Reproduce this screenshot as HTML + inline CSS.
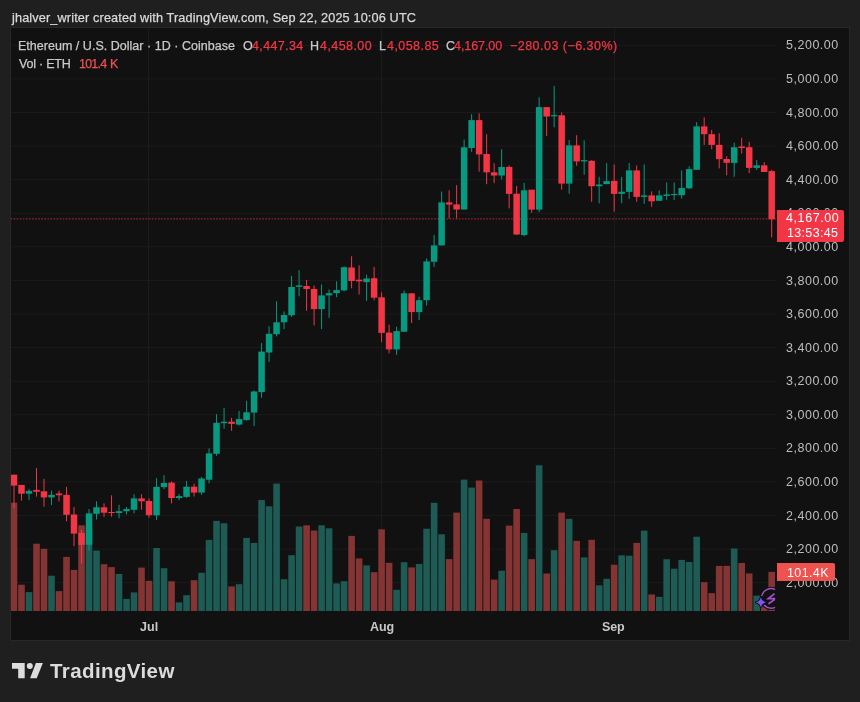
<!DOCTYPE html>
<html><head><meta charset="utf-8"><style>
html,body{margin:0;padding:0;width:860px;height:702px;overflow:hidden;background:#1f1f1f;font-family:"Liberation Sans",sans-serif}
svg{position:absolute;left:0;top:0}
.t{position:absolute;white-space:nowrap;will-change:transform}
.box{position:absolute}
.logo{left:52px;top:656px;font-size:20px;font-weight:bold;color:#dcdcdc;line-height:24px;letter-spacing:-0.2px}
</style></head><body>
<svg width="860" height="702" viewBox="0 0 860 702">
<clipPath id="pc2"><rect x="11" y="28" width="765" height="583"/></clipPath>
<rect x="10.5" y="27.5" width="839" height="613" fill="#111111" stroke="#282828" stroke-width="1"/>
<rect x="11" y="44.80" width="765" height="1" fill="#1b1b1b"/>
<rect x="11" y="78.39" width="765" height="1" fill="#1b1b1b"/>
<rect x="11" y="111.98" width="765" height="1" fill="#1b1b1b"/>
<rect x="11" y="145.56" width="765" height="1" fill="#1b1b1b"/>
<rect x="11" y="179.15" width="765" height="1" fill="#1b1b1b"/>
<rect x="11" y="212.74" width="765" height="1" fill="#1b1b1b"/>
<rect x="11" y="246.33" width="765" height="1" fill="#1b1b1b"/>
<rect x="11" y="279.92" width="765" height="1" fill="#1b1b1b"/>
<rect x="11" y="313.50" width="765" height="1" fill="#1b1b1b"/>
<rect x="11" y="347.09" width="765" height="1" fill="#1b1b1b"/>
<rect x="11" y="380.68" width="765" height="1" fill="#1b1b1b"/>
<rect x="11" y="414.27" width="765" height="1" fill="#1b1b1b"/>
<rect x="11" y="447.86" width="765" height="1" fill="#1b1b1b"/>
<rect x="11" y="481.44" width="765" height="1" fill="#1b1b1b"/>
<rect x="11" y="515.03" width="765" height="1" fill="#1b1b1b"/>
<rect x="11" y="548.62" width="765" height="1" fill="#1b1b1b"/>
<rect x="11" y="582.21" width="765" height="1" fill="#1b1b1b"/>
<rect x="148" y="28" width="1" height="583" fill="#1b1b1b"/>
<rect x="381" y="28" width="1" height="583" fill="#1b1b1b"/>
<rect x="614" y="28" width="1" height="583" fill="#1b1b1b"/>
<rect x="11" y="502.7" width="6.3" height="108.3" fill="#853434"/>
<rect x="18.2" y="584.7" width="6.6" height="26.3" fill="#853434"/>
<rect x="25.7" y="592.1" width="6.6" height="18.9" fill="#1d5b54"/>
<rect x="33.21" y="543.7" width="6.6" height="67.3" fill="#853434"/>
<rect x="40.71" y="548.8" width="6.6" height="62.2" fill="#853434"/>
<rect x="48.21" y="575.7" width="6.6" height="35.3" fill="#1d5b54"/>
<rect x="55.71" y="591.1" width="6.6" height="19.9" fill="#853434"/>
<rect x="63.21" y="556.9" width="6.6" height="54.1" fill="#853434"/>
<rect x="70.72" y="569.9" width="6.6" height="41.1" fill="#853434"/>
<rect x="78.22" y="525.3" width="6.6" height="85.7" fill="#853434"/>
<rect x="85.72" y="527.3" width="6.6" height="83.7" fill="#1d5b54"/>
<rect x="93.22" y="550.6" width="6.6" height="60.4" fill="#1d5b54"/>
<rect x="100.72" y="564.2" width="6.6" height="46.8" fill="#853434"/>
<rect x="108.23" y="567.1" width="6.6" height="43.9" fill="#853434"/>
<rect x="115.73" y="574" width="6.6" height="37" fill="#1d5b54"/>
<rect x="123.23" y="598.9" width="6.6" height="12.1" fill="#1d5b54"/>
<rect x="130.73" y="592.4" width="6.6" height="18.6" fill="#1d5b54"/>
<rect x="138.23" y="567.6" width="6.6" height="43.4" fill="#853434"/>
<rect x="145.74" y="580.8" width="6.6" height="30.2" fill="#853434"/>
<rect x="153.24" y="548" width="6.6" height="63" fill="#1d5b54"/>
<rect x="160.74" y="568.2" width="6.6" height="42.8" fill="#1d5b54"/>
<rect x="168.24" y="581.3" width="6.6" height="29.7" fill="#853434"/>
<rect x="175.74" y="602.4" width="6.6" height="8.6" fill="#1d5b54"/>
<rect x="183.25" y="595.2" width="6.6" height="15.8" fill="#1d5b54"/>
<rect x="190.75" y="580.2" width="6.6" height="30.8" fill="#853434"/>
<rect x="198.25" y="572.8" width="6.6" height="38.2" fill="#1d5b54"/>
<rect x="205.75" y="539.9" width="6.6" height="71.1" fill="#1d5b54"/>
<rect x="213.25" y="520.9" width="6.6" height="90.1" fill="#1d5b54"/>
<rect x="220.76" y="523.3" width="6.6" height="87.7" fill="#1d5b54"/>
<rect x="228.26" y="586.4" width="6.6" height="24.6" fill="#853434"/>
<rect x="235.76" y="584.2" width="6.6" height="26.8" fill="#1d5b54"/>
<rect x="243.26" y="537.9" width="6.6" height="73.1" fill="#1d5b54"/>
<rect x="250.76" y="542.9" width="6.6" height="68.1" fill="#1d5b54"/>
<rect x="258.27" y="500" width="6.6" height="111" fill="#1d5b54"/>
<rect x="265.77" y="506.3" width="6.6" height="104.7" fill="#1d5b54"/>
<rect x="273.27" y="483.6" width="6.6" height="127.4" fill="#1d5b54"/>
<rect x="280.77" y="579.2" width="6.6" height="31.8" fill="#1d5b54"/>
<rect x="288.27" y="555.2" width="6.6" height="55.8" fill="#1d5b54"/>
<rect x="295.78" y="526.5" width="6.6" height="84.5" fill="#1d5b54"/>
<rect x="303.28" y="525.3" width="6.6" height="85.7" fill="#853434"/>
<rect x="310.78" y="530.5" width="6.6" height="80.5" fill="#853434"/>
<rect x="318.28" y="525.3" width="6.6" height="85.7" fill="#1d5b54"/>
<rect x="325.78" y="528.3" width="6.6" height="82.7" fill="#1d5b54"/>
<rect x="333.29" y="583.4" width="6.6" height="27.6" fill="#1d5b54"/>
<rect x="340.79" y="581.2" width="6.6" height="29.8" fill="#1d5b54"/>
<rect x="348.29" y="535.9" width="6.6" height="75.1" fill="#853434"/>
<rect x="355.79" y="558.4" width="6.6" height="52.6" fill="#853434"/>
<rect x="363.29" y="565.4" width="6.6" height="45.6" fill="#1d5b54"/>
<rect x="370.8" y="572.2" width="6.6" height="38.8" fill="#853434"/>
<rect x="378.3" y="529.3" width="6.6" height="81.7" fill="#853434"/>
<rect x="385.8" y="562.8" width="6.6" height="48.2" fill="#853434"/>
<rect x="393.3" y="589.8" width="6.6" height="21.2" fill="#1d5b54"/>
<rect x="400.8" y="562.2" width="6.6" height="48.8" fill="#1d5b54"/>
<rect x="408.31" y="567.4" width="6.6" height="43.6" fill="#853434"/>
<rect x="415.81" y="564" width="6.6" height="47" fill="#1d5b54"/>
<rect x="423.31" y="528.7" width="6.6" height="82.3" fill="#1d5b54"/>
<rect x="430.81" y="502.8" width="6.6" height="108.2" fill="#1d5b54"/>
<rect x="438.31" y="534.3" width="6.6" height="76.7" fill="#1d5b54"/>
<rect x="445.82" y="559.1" width="6.6" height="51.9" fill="#853434"/>
<rect x="453.32" y="512.6" width="6.6" height="98.4" fill="#853434"/>
<rect x="460.82" y="479.6" width="6.6" height="131.4" fill="#1d5b54"/>
<rect x="468.32" y="487.6" width="6.6" height="123.4" fill="#1d5b54"/>
<rect x="475.82" y="480.5" width="6.6" height="130.5" fill="#853434"/>
<rect x="483.33" y="518.8" width="6.6" height="92.2" fill="#853434"/>
<rect x="490.83" y="579.6" width="6.6" height="31.4" fill="#853434"/>
<rect x="498.33" y="570.7" width="6.6" height="40.3" fill="#1d5b54"/>
<rect x="505.83" y="525.6" width="6.6" height="85.4" fill="#853434"/>
<rect x="513.33" y="509" width="6.6" height="102" fill="#853434"/>
<rect x="520.84" y="532.9" width="6.6" height="78.1" fill="#1d5b54"/>
<rect x="528.34" y="559.1" width="6.6" height="51.9" fill="#853434"/>
<rect x="535.84" y="465.3" width="6.6" height="145.7" fill="#1d5b54"/>
<rect x="543.34" y="573.5" width="6.6" height="37.5" fill="#853434"/>
<rect x="550.84" y="550.2" width="6.6" height="60.8" fill="#1d5b54"/>
<rect x="558.35" y="512.6" width="6.6" height="98.4" fill="#853434"/>
<rect x="565.85" y="518.8" width="6.6" height="92.2" fill="#1d5b54"/>
<rect x="573.35" y="540.9" width="6.6" height="70.1" fill="#853434"/>
<rect x="580.85" y="557.4" width="6.6" height="53.6" fill="#1d5b54"/>
<rect x="588.35" y="539.8" width="6.6" height="71.2" fill="#853434"/>
<rect x="595.86" y="585.3" width="6.6" height="25.7" fill="#1d5b54"/>
<rect x="603.36" y="578.8" width="6.6" height="32.2" fill="#1d5b54"/>
<rect x="610.86" y="564.7" width="6.6" height="46.3" fill="#853434"/>
<rect x="618.36" y="555.3" width="6.6" height="55.7" fill="#1d5b54"/>
<rect x="625.86" y="555.7" width="6.6" height="55.3" fill="#1d5b54"/>
<rect x="633.37" y="542.9" width="6.6" height="68.1" fill="#853434"/>
<rect x="640.87" y="530.6" width="6.6" height="80.4" fill="#1d5b54"/>
<rect x="648.37" y="594.5" width="6.6" height="16.5" fill="#853434"/>
<rect x="655.87" y="596.8" width="6.6" height="14.2" fill="#1d5b54"/>
<rect x="663.37" y="559.2" width="6.6" height="51.8" fill="#1d5b54"/>
<rect x="670.88" y="568.7" width="6.6" height="42.3" fill="#1d5b54"/>
<rect x="678.38" y="559.9" width="6.6" height="51.1" fill="#1d5b54"/>
<rect x="685.88" y="562" width="6.6" height="49" fill="#1d5b54"/>
<rect x="693.38" y="536.7" width="6.6" height="74.3" fill="#1d5b54"/>
<rect x="700.88" y="582.2" width="6.6" height="28.8" fill="#853434"/>
<rect x="708.39" y="593.1" width="6.6" height="17.9" fill="#853434"/>
<rect x="715.89" y="565.9" width="6.6" height="45.1" fill="#853434"/>
<rect x="723.39" y="565.9" width="6.6" height="45.1" fill="#853434"/>
<rect x="730.89" y="548.5" width="6.6" height="62.5" fill="#1d5b54"/>
<rect x="738.39" y="563" width="6.6" height="48" fill="#853434"/>
<rect x="745.9" y="573.4" width="6.6" height="37.6" fill="#853434"/>
<rect x="753.4" y="595.6" width="6.6" height="15.4" fill="#1d5b54"/>
<rect x="760.9" y="606.3" width="6.6" height="4.7" fill="#853434"/>
<rect x="768.4" y="571.9" width="6.6" height="39.1" fill="#853434"/>
<line x1="10.52" y1="218.9" x2="776" y2="218.9" stroke="#f23645" stroke-width="1" stroke-dasharray="1.7 1.37" opacity="0.7" clip-path="url(#pc2)"/>
<rect x="13.5" y="474.7" width="1" height="33.7" fill="#f23645"/>
<rect x="11" y="474.7" width="6.25" height="10.9" fill="#f23645"/>
<rect x="21" y="484.9" width="1" height="15.7" fill="#f23645"/>
<rect x="18.25" y="484.9" width="6.5" height="8.8" fill="#f23645"/>
<rect x="28.5" y="488.9" width="1" height="11" fill="#089981"/>
<rect x="25.75" y="490.9" width="6.5" height="2.8" fill="#089981"/>
<rect x="36.01" y="468.1" width="1" height="28.5" fill="#f23645"/>
<rect x="33.26" y="489.9" width="6.5" height="1.8" fill="#f23645"/>
<rect x="43.51" y="478.9" width="1" height="27.7" fill="#f23645"/>
<rect x="40.76" y="491.3" width="6.5" height="6.1" fill="#f23645"/>
<rect x="51.01" y="490.6" width="1" height="14.3" fill="#089981"/>
<rect x="48.26" y="494.9" width="6.5" height="2.5" fill="#089981"/>
<rect x="58.51" y="490.6" width="1" height="10.7" fill="#f23645"/>
<rect x="55.76" y="493.5" width="6.5" height="1.7" fill="#f23645"/>
<rect x="66.01" y="487" width="1" height="34.2" fill="#f23645"/>
<rect x="63.26" y="494.9" width="6.5" height="19.9" fill="#f23645"/>
<rect x="73.52" y="507" width="1" height="39.2" fill="#f23645"/>
<rect x="70.77" y="514.5" width="6.5" height="19.1" fill="#f23645"/>
<rect x="81.02" y="529.9" width="1" height="33.6" fill="#f23645"/>
<rect x="78.27" y="532.9" width="6.5" height="12" fill="#f23645"/>
<rect x="88.52" y="509.1" width="1" height="41.3" fill="#089981"/>
<rect x="85.77" y="513.4" width="6.5" height="31.3" fill="#089981"/>
<rect x="96.02" y="501.3" width="1" height="18.2" fill="#089981"/>
<rect x="93.27" y="507.3" width="6.5" height="6.5" fill="#089981"/>
<rect x="103.52" y="503.4" width="1" height="13.5" fill="#f23645"/>
<rect x="100.77" y="507.3" width="6.5" height="5.4" fill="#f23645"/>
<rect x="111.03" y="495.3" width="1" height="21.4" fill="#f23645"/>
<rect x="108.28" y="512" width="6.5" height="1" fill="#f23645"/>
<rect x="118.53" y="504.8" width="1" height="13.6" fill="#089981"/>
<rect x="115.78" y="511.2" width="6.5" height="1.8" fill="#089981"/>
<rect x="126.03" y="507" width="1" height="7.4" fill="#089981"/>
<rect x="123.28" y="509.1" width="6.5" height="2.1" fill="#089981"/>
<rect x="133.53" y="494.2" width="1" height="19.2" fill="#089981"/>
<rect x="130.78" y="498.4" width="6.5" height="11.4" fill="#089981"/>
<rect x="141.03" y="494.2" width="1" height="15.6" fill="#f23645"/>
<rect x="138.28" y="498.4" width="6.5" height="2.9" fill="#f23645"/>
<rect x="148.54" y="498.4" width="1" height="19.3" fill="#f23645"/>
<rect x="145.79" y="501" width="6.5" height="14.2" fill="#f23645"/>
<rect x="156.04" y="478.1" width="1" height="41.9" fill="#089981"/>
<rect x="153.29" y="486.9" width="6.5" height="28.4" fill="#089981"/>
<rect x="163.54" y="475.3" width="1" height="13.9" fill="#089981"/>
<rect x="160.79" y="483" width="6.5" height="4.1" fill="#089981"/>
<rect x="171.04" y="481.5" width="1" height="21.8" fill="#f23645"/>
<rect x="168.29" y="482.6" width="6.5" height="15.4" fill="#f23645"/>
<rect x="178.54" y="493.9" width="1" height="6.4" fill="#089981"/>
<rect x="175.79" y="496.1" width="6.5" height="1.9" fill="#089981"/>
<rect x="186.05" y="480.9" width="1" height="16.9" fill="#089981"/>
<rect x="183.3" y="486.7" width="6.5" height="10.2" fill="#089981"/>
<rect x="193.55" y="483.7" width="1" height="12.8" fill="#f23645"/>
<rect x="190.8" y="486.7" width="6.5" height="5.9" fill="#f23645"/>
<rect x="201.05" y="477" width="1" height="17.8" fill="#089981"/>
<rect x="198.3" y="478.5" width="6.5" height="14.1" fill="#089981"/>
<rect x="208.55" y="448.4" width="1" height="34.9" fill="#089981"/>
<rect x="205.8" y="453.4" width="6.5" height="26.3" fill="#089981"/>
<rect x="216.05" y="414.2" width="1" height="41.6" fill="#089981"/>
<rect x="213.3" y="422.8" width="6.5" height="31" fill="#089981"/>
<rect x="223.56" y="408" width="1" height="20.8" fill="#089981"/>
<rect x="220.81" y="421.7" width="6.5" height="1.5" fill="#089981"/>
<rect x="231.06" y="417.8" width="1" height="13" fill="#f23645"/>
<rect x="228.31" y="421.7" width="6.5" height="2.2" fill="#f23645"/>
<rect x="238.56" y="410.9" width="1" height="14.7" fill="#089981"/>
<rect x="235.81" y="419.1" width="6.5" height="5.5" fill="#089981"/>
<rect x="246.06" y="400.7" width="1" height="20.2" fill="#089981"/>
<rect x="243.31" y="412.3" width="6.5" height="7.7" fill="#089981"/>
<rect x="253.56" y="390.4" width="1" height="35.6" fill="#089981"/>
<rect x="250.81" y="391.5" width="6.5" height="21.1" fill="#089981"/>
<rect x="261.07" y="343.1" width="1" height="54.7" fill="#089981"/>
<rect x="258.32" y="351.6" width="6.5" height="40.5" fill="#089981"/>
<rect x="268.57" y="326.3" width="1" height="35.6" fill="#089981"/>
<rect x="265.82" y="333.8" width="6.5" height="18.7" fill="#089981"/>
<rect x="276.07" y="301.2" width="1" height="35.2" fill="#089981"/>
<rect x="273.32" y="322.3" width="6.5" height="11.9" fill="#089981"/>
<rect x="283.57" y="311.4" width="1" height="17.7" fill="#089981"/>
<rect x="280.82" y="315" width="6.5" height="7.3" fill="#089981"/>
<rect x="291.07" y="275.8" width="1" height="41" fill="#089981"/>
<rect x="288.32" y="287" width="6.5" height="28.3" fill="#089981"/>
<rect x="298.58" y="270.1" width="1" height="26.2" fill="#089981"/>
<rect x="295.83" y="285.4" width="6.5" height="1.4" fill="#089981"/>
<rect x="306.08" y="280" width="1" height="30.8" fill="#f23645"/>
<rect x="303.33" y="286" width="6.5" height="3" fill="#f23645"/>
<rect x="313.58" y="285.5" width="1" height="40" fill="#f23645"/>
<rect x="310.83" y="289" width="6.5" height="20.1" fill="#f23645"/>
<rect x="321.08" y="284.5" width="1" height="44.6" fill="#089981"/>
<rect x="318.33" y="295.4" width="6.5" height="13.7" fill="#089981"/>
<rect x="328.58" y="289.4" width="1" height="28.4" fill="#089981"/>
<rect x="325.83" y="293.2" width="6.5" height="2.2" fill="#089981"/>
<rect x="336.09" y="281.3" width="1" height="15.9" fill="#089981"/>
<rect x="333.34" y="290.1" width="6.5" height="3" fill="#089981"/>
<rect x="343.59" y="266.4" width="1" height="25.1" fill="#089981"/>
<rect x="340.84" y="267.2" width="6.5" height="23.2" fill="#089981"/>
<rect x="351.09" y="256.3" width="1" height="32" fill="#f23645"/>
<rect x="348.34" y="267.5" width="6.5" height="13.5" fill="#f23645"/>
<rect x="358.59" y="265.3" width="1" height="29.3" fill="#f23645"/>
<rect x="355.84" y="279.7" width="6.5" height="1.6" fill="#f23645"/>
<rect x="366.09" y="274.7" width="1" height="26.2" fill="#089981"/>
<rect x="363.34" y="278.5" width="6.5" height="3.6" fill="#089981"/>
<rect x="373.6" y="266.9" width="1" height="33.5" fill="#f23645"/>
<rect x="370.85" y="278.2" width="6.5" height="19.5" fill="#f23645"/>
<rect x="381.1" y="292.3" width="1" height="50" fill="#f23645"/>
<rect x="378.35" y="297.3" width="6.5" height="35.6" fill="#f23645"/>
<rect x="388.6" y="324.8" width="1" height="28.5" fill="#f23645"/>
<rect x="385.85" y="332.6" width="6.5" height="16.8" fill="#f23645"/>
<rect x="396.1" y="326.7" width="1" height="28.2" fill="#089981"/>
<rect x="393.35" y="331.1" width="6.5" height="18.3" fill="#089981"/>
<rect x="403.6" y="290.5" width="1" height="41.2" fill="#089981"/>
<rect x="400.85" y="293.3" width="6.5" height="38.4" fill="#089981"/>
<rect x="411.11" y="293.3" width="1" height="29.7" fill="#f23645"/>
<rect x="408.36" y="293.3" width="6.5" height="18.8" fill="#f23645"/>
<rect x="418.61" y="296.7" width="1" height="23.4" fill="#089981"/>
<rect x="415.86" y="300.2" width="6.5" height="11.9" fill="#089981"/>
<rect x="426.11" y="258.4" width="1" height="47.2" fill="#089981"/>
<rect x="423.36" y="261.4" width="6.5" height="38.8" fill="#089981"/>
<rect x="433.61" y="234.9" width="1" height="32" fill="#089981"/>
<rect x="430.86" y="245.4" width="6.5" height="16.4" fill="#089981"/>
<rect x="441.11" y="191.5" width="1" height="53.9" fill="#089981"/>
<rect x="438.36" y="202.4" width="6.5" height="43" fill="#089981"/>
<rect x="448.62" y="190.3" width="1" height="28.2" fill="#f23645"/>
<rect x="445.87" y="202.4" width="6.5" height="2.2" fill="#f23645"/>
<rect x="456.12" y="185.1" width="1" height="33.4" fill="#f23645"/>
<rect x="453.37" y="204.4" width="6.5" height="5.1" fill="#f23645"/>
<rect x="463.62" y="139.6" width="1" height="69.9" fill="#089981"/>
<rect x="460.87" y="147.3" width="6.5" height="62.2" fill="#089981"/>
<rect x="471.12" y="114.2" width="1" height="37.6" fill="#089981"/>
<rect x="468.37" y="120.1" width="6.5" height="27.9" fill="#089981"/>
<rect x="478.62" y="113.3" width="1" height="58.4" fill="#f23645"/>
<rect x="475.87" y="120.1" width="6.5" height="34.3" fill="#f23645"/>
<rect x="486.13" y="134.2" width="1" height="50" fill="#f23645"/>
<rect x="483.38" y="154" width="6.5" height="18.3" fill="#f23645"/>
<rect x="493.63" y="163.3" width="1" height="19.9" fill="#f23645"/>
<rect x="490.88" y="172.3" width="6.5" height="3.2" fill="#f23645"/>
<rect x="501.13" y="149.2" width="1" height="30.2" fill="#089981"/>
<rect x="498.38" y="167" width="6.5" height="8.5" fill="#089981"/>
<rect x="508.63" y="165.4" width="1" height="43" fill="#f23645"/>
<rect x="505.88" y="166.9" width="6.5" height="27" fill="#f23645"/>
<rect x="516.13" y="186" width="1" height="49.1" fill="#f23645"/>
<rect x="513.38" y="193.7" width="6.5" height="40.8" fill="#f23645"/>
<rect x="523.64" y="182.8" width="1" height="53.5" fill="#089981"/>
<rect x="520.89" y="190.3" width="6.5" height="44.8" fill="#089981"/>
<rect x="531.14" y="189.7" width="1" height="23" fill="#f23645"/>
<rect x="528.39" y="189.7" width="6.5" height="19.9" fill="#f23645"/>
<rect x="538.64" y="97.3" width="1" height="114.8" fill="#089981"/>
<rect x="535.89" y="107.1" width="6.5" height="102.5" fill="#089981"/>
<rect x="546.14" y="107.1" width="1" height="28.8" fill="#f23645"/>
<rect x="543.39" y="107.1" width="6.5" height="9.4" fill="#f23645"/>
<rect x="553.64" y="85.9" width="1" height="41.4" fill="#089981"/>
<rect x="550.89" y="115.1" width="6.5" height="1.2" fill="#089981"/>
<rect x="561.15" y="112.5" width="1" height="77.1" fill="#f23645"/>
<rect x="558.4" y="115.3" width="6.5" height="68.3" fill="#f23645"/>
<rect x="568.65" y="140.1" width="1" height="53.7" fill="#089981"/>
<rect x="565.9" y="145.4" width="6.5" height="38.2" fill="#089981"/>
<rect x="576.15" y="135.2" width="1" height="30.7" fill="#f23645"/>
<rect x="573.4" y="145.4" width="6.5" height="16" fill="#f23645"/>
<rect x="583.65" y="140.3" width="1" height="34.6" fill="#089981"/>
<rect x="580.9" y="160.1" width="6.5" height="1.3" fill="#089981"/>
<rect x="591.15" y="160.1" width="1" height="41.7" fill="#f23645"/>
<rect x="588.4" y="160.8" width="6.5" height="25.4" fill="#f23645"/>
<rect x="598.66" y="176.8" width="1" height="26.5" fill="#089981"/>
<rect x="595.91" y="184.5" width="6.5" height="1.7" fill="#089981"/>
<rect x="606.16" y="163" width="1" height="21.1" fill="#089981"/>
<rect x="603.41" y="181.1" width="6.5" height="3" fill="#089981"/>
<rect x="613.66" y="164.5" width="1" height="47.1" fill="#f23645"/>
<rect x="610.91" y="180.9" width="6.5" height="13" fill="#f23645"/>
<rect x="621.16" y="176.9" width="1" height="26.4" fill="#089981"/>
<rect x="618.41" y="191.7" width="6.5" height="2.2" fill="#089981"/>
<rect x="628.66" y="163" width="1" height="35.9" fill="#089981"/>
<rect x="625.91" y="170.4" width="6.5" height="21.5" fill="#089981"/>
<rect x="636.17" y="165.5" width="1" height="36.3" fill="#f23645"/>
<rect x="633.42" y="170.4" width="6.5" height="26.5" fill="#f23645"/>
<rect x="643.67" y="164.5" width="1" height="39.3" fill="#089981"/>
<rect x="640.92" y="195.4" width="6.5" height="1.5" fill="#089981"/>
<rect x="651.17" y="191.4" width="1" height="15.4" fill="#f23645"/>
<rect x="648.42" y="195.4" width="6.5" height="5.9" fill="#f23645"/>
<rect x="658.67" y="190.4" width="1" height="10.4" fill="#089981"/>
<rect x="655.92" y="195.4" width="6.5" height="5.4" fill="#089981"/>
<rect x="666.17" y="182.5" width="1" height="17.3" fill="#089981"/>
<rect x="663.42" y="194.4" width="6.5" height="1.5" fill="#089981"/>
<rect x="673.68" y="182.4" width="1" height="17.6" fill="#089981"/>
<rect x="670.93" y="194" width="6.5" height="1.2" fill="#089981"/>
<rect x="681.18" y="170.5" width="1" height="28.1" fill="#089981"/>
<rect x="678.43" y="188" width="6.5" height="7.2" fill="#089981"/>
<rect x="688.68" y="166.3" width="1" height="22.8" fill="#089981"/>
<rect x="685.93" y="169.1" width="6.5" height="19.2" fill="#089981"/>
<rect x="696.18" y="122.1" width="1" height="47.7" fill="#089981"/>
<rect x="693.43" y="126.4" width="6.5" height="43.4" fill="#089981"/>
<rect x="703.68" y="117.4" width="1" height="27.5" fill="#f23645"/>
<rect x="700.93" y="126.4" width="6.5" height="7.8" fill="#f23645"/>
<rect x="711.19" y="129.9" width="1" height="19.3" fill="#f23645"/>
<rect x="708.44" y="134.2" width="6.5" height="10.7" fill="#f23645"/>
<rect x="718.69" y="133.3" width="1" height="35.1" fill="#f23645"/>
<rect x="715.94" y="144.9" width="6.5" height="14.2" fill="#f23645"/>
<rect x="726.19" y="156.1" width="1" height="19.2" fill="#f23645"/>
<rect x="723.44" y="159" width="6.5" height="3.8" fill="#f23645"/>
<rect x="733.69" y="142.7" width="1" height="34" fill="#089981"/>
<rect x="730.94" y="147.2" width="6.5" height="15.7" fill="#089981"/>
<rect x="741.19" y="137.8" width="1" height="15.7" fill="#f23645"/>
<rect x="738.44" y="146.5" width="6.5" height="1.5" fill="#f23645"/>
<rect x="748.7" y="141.8" width="1" height="31.3" fill="#f23645"/>
<rect x="745.95" y="147.2" width="6.5" height="20.7" fill="#f23645"/>
<rect x="756.2" y="160.1" width="1" height="9.9" fill="#089981"/>
<rect x="753.45" y="165.3" width="6.5" height="2.6" fill="#089981"/>
<rect x="763.7" y="162.1" width="1" height="9.9" fill="#f23645"/>
<rect x="760.95" y="165.3" width="6.5" height="6.7" fill="#f23645"/>
<rect x="771.2" y="170" width="1" height="67.4" fill="#f23645"/>
<rect x="768.45" y="171.1" width="6.5" height="48.2" fill="#f23645"/>
<clipPath id="pc"><rect x="11" y="28" width="764.2" height="583"/></clipPath>
<g clip-path="url(#pc)">
<circle cx="771.2" cy="598.4" r="11.6" fill="#111111"/>
<path d="M761.65 596.2A9.8 9.8 0 1 1 764.05 605.1" fill="none" stroke="#a54fd0" stroke-width="1.4"/>
<path d="M774.6 593.7L768.2 598.7H775.6L768.4 603.9" fill="none" stroke="#a54fd0" stroke-width="1.7" stroke-linejoin="miter" stroke-miterlimit="10"/>
</g>
<path d="M760.85 597.20Q761.80 601.40 766.00 602.35Q761.80 603.30 760.85 607.50Q759.90 603.30 755.70 602.35Q759.90 601.40 760.85 597.20Z" fill="#7b52ff" stroke="#0e0e0e" stroke-width="1.6" paint-order="stroke" stroke-linejoin="round"/>
<g fill="#dcdcdc">
<path d="M12 663h12.7v15.3h-6.5v-9.5h-6.2z"/>
<circle cx="29.8" cy="666" r="3"/>
<path d="M35.9 663h7l-6.2 15.3h-6.6z"/>
</g>
</svg>
<div class="t" style="left:11.6px;top:11.65px;font-size:12.7px;line-height:12.7px;color:#d9d9d9;letter-spacing:0.140px;-webkit-text-stroke:0.25px currentColor">jhalver_writer created with TradingView.com, Sep 22, 2025 10:06 UTC</div>
<div class="t" style="left:18.2px;top:40.22px;font-size:12.5px;line-height:12.5px;color:#c9c9c9;letter-spacing:0.022px;-webkit-text-stroke:0.25px currentColor">Ethereum / U.S. Dollar · 1D · Coinbase</div>
<div class="t" style="left:242.8px;top:40.22px;font-size:12.5px;line-height:12.5px;color:#c9c9c9;letter-spacing:0.000px;-webkit-text-stroke:0.25px currentColor">O</div>
<div class="t" style="left:252.1px;top:40.22px;font-size:12.5px;line-height:12.5px;color:#f23645;letter-spacing:0.356px;-webkit-text-stroke:0.25px currentColor">4,447.34</div>
<div class="t" style="left:310.4px;top:40.22px;font-size:12.5px;line-height:12.5px;color:#c9c9c9;letter-spacing:0.000px;-webkit-text-stroke:0.25px currentColor">H</div>
<div class="t" style="left:320.2px;top:40.22px;font-size:12.5px;line-height:12.5px;color:#f23645;letter-spacing:0.428px;-webkit-text-stroke:0.25px currentColor">4,458.00</div>
<div class="t" style="left:379px;top:40.22px;font-size:12.5px;line-height:12.5px;color:#c9c9c9;letter-spacing:0.000px;-webkit-text-stroke:0.25px currentColor">L</div>
<div class="t" style="left:387px;top:40.22px;font-size:12.5px;line-height:12.5px;color:#f23645;letter-spacing:0.442px;-webkit-text-stroke:0.25px currentColor">4,058.85</div>
<div class="t" style="left:445.8px;top:40.22px;font-size:12.5px;line-height:12.5px;color:#c9c9c9;letter-spacing:0.000px;-webkit-text-stroke:0.25px currentColor">C</div>
<div class="t" style="left:454.4px;top:40.22px;font-size:12.5px;line-height:12.5px;color:#f23645;letter-spacing:-0.072px;-webkit-text-stroke:0.25px currentColor">4,167.00</div>
<div class="t" style="left:510.2px;top:40.22px;font-size:12.5px;line-height:12.5px;color:#f23645;letter-spacing:0.473px;-webkit-text-stroke:0.25px currentColor">−280.03 (−6.30%)</div>
<div class="t" style="left:18.8px;top:57.72px;font-size:12.5px;line-height:12.5px;color:#c9c9c9;letter-spacing:-0.207px;-webkit-text-stroke:0.25px currentColor">Vol · ETH</div>
<div class="t" style="left:78.9px;top:57.72px;font-size:12.5px;line-height:12.5px;color:#ef5350;letter-spacing:-0.782px;-webkit-text-stroke:0.25px currentColor">101.4</div>
<div class="t" style="left:109.9px;top:57.72px;font-size:12.5px;line-height:12.5px;color:#ef5350;letter-spacing:0.000px;-webkit-text-stroke:0.25px currentColor">K</div>
<div class="t" style="left:785.9px;top:39.42px;font-size:12.5px;line-height:12.5px;color:#bdbdbd;letter-spacing:0.514px;-webkit-text-stroke:0px currentColor">5,200.00</div>
<div class="t" style="left:785.9px;top:73.01px;font-size:12.5px;line-height:12.5px;color:#bdbdbd;letter-spacing:0.514px;-webkit-text-stroke:0px currentColor">5,000.00</div>
<div class="t" style="left:785.9px;top:106.59px;font-size:12.5px;line-height:12.5px;color:#bdbdbd;letter-spacing:0.514px;-webkit-text-stroke:0px currentColor">4,800.00</div>
<div class="t" style="left:785.9px;top:140.18px;font-size:12.5px;line-height:12.5px;color:#bdbdbd;letter-spacing:0.514px;-webkit-text-stroke:0px currentColor">4,600.00</div>
<div class="t" style="left:785.9px;top:173.77px;font-size:12.5px;line-height:12.5px;color:#bdbdbd;letter-spacing:0.514px;-webkit-text-stroke:0px currentColor">4,400.00</div>
<div class="t" style="left:785.9px;top:207.36px;font-size:12.5px;line-height:12.5px;color:#bdbdbd;letter-spacing:0.514px;-webkit-text-stroke:0px currentColor">4,200.00</div>
<div class="t" style="left:785.9px;top:240.95px;font-size:12.5px;line-height:12.5px;color:#bdbdbd;letter-spacing:0.514px;-webkit-text-stroke:0px currentColor">4,000.00</div>
<div class="t" style="left:785.9px;top:274.53px;font-size:12.5px;line-height:12.5px;color:#bdbdbd;letter-spacing:0.514px;-webkit-text-stroke:0px currentColor">3,800.00</div>
<div class="t" style="left:785.9px;top:308.12px;font-size:12.5px;line-height:12.5px;color:#bdbdbd;letter-spacing:0.514px;-webkit-text-stroke:0px currentColor">3,600.00</div>
<div class="t" style="left:785.9px;top:341.71px;font-size:12.5px;line-height:12.5px;color:#bdbdbd;letter-spacing:0.514px;-webkit-text-stroke:0px currentColor">3,400.00</div>
<div class="t" style="left:785.9px;top:375.3px;font-size:12.5px;line-height:12.5px;color:#bdbdbd;letter-spacing:0.514px;-webkit-text-stroke:0px currentColor">3,200.00</div>
<div class="t" style="left:785.9px;top:408.89px;font-size:12.5px;line-height:12.5px;color:#bdbdbd;letter-spacing:0.514px;-webkit-text-stroke:0px currentColor">3,000.00</div>
<div class="t" style="left:785.9px;top:442.47px;font-size:12.5px;line-height:12.5px;color:#bdbdbd;letter-spacing:0.514px;-webkit-text-stroke:0px currentColor">2,800.00</div>
<div class="t" style="left:785.9px;top:476.06px;font-size:12.5px;line-height:12.5px;color:#bdbdbd;letter-spacing:0.514px;-webkit-text-stroke:0px currentColor">2,600.00</div>
<div class="t" style="left:785.9px;top:509.65px;font-size:12.5px;line-height:12.5px;color:#bdbdbd;letter-spacing:0.514px;-webkit-text-stroke:0px currentColor">2,400.00</div>
<div class="t" style="left:785.9px;top:543.24px;font-size:12.5px;line-height:12.5px;color:#bdbdbd;letter-spacing:0.514px;-webkit-text-stroke:0px currentColor">2,200.00</div>
<div class="t" style="left:785.9px;top:576.83px;font-size:12.5px;line-height:12.5px;color:#bdbdbd;letter-spacing:0.514px;-webkit-text-stroke:0px currentColor">2,000.00</div>
<div class="t" style="left:140px;top:620.52px;font-size:12.5px;line-height:12.5px;color:#c8c8c8;letter-spacing:0.056px;font-weight:bold;-webkit-text-stroke:0px currentColor">Jul</div>
<div class="t" style="left:369.8px;top:620.52px;font-size:12.5px;line-height:12.5px;color:#c8c8c8;letter-spacing:-0.081px;font-weight:bold;-webkit-text-stroke:0px currentColor">Aug</div>
<div class="t" style="left:602.4px;top:620.52px;font-size:12.5px;line-height:12.5px;color:#c8c8c8;letter-spacing:-0.195px;font-weight:bold;-webkit-text-stroke:0px currentColor">Sep</div>
<div class="t" style="left:49.8px;top:660.55px;font-size:20.5px;line-height:20.5px;color:#dcdcdc;letter-spacing:0.397px;font-weight:bold;-webkit-text-stroke:0px currentColor">TradingView</div>
<div class="box" style="left:777px;top:210px;width:67.4px;height:31.6px;background:#f23645;border-radius:0 2px 2px 0"></div>
<div class="box" style="left:777px;top:563.4px;width:58px;height:17.2px;background:#ef5350;border-radius:0 2px 2px 0"></div>
<div class="t" style="left:785.6px;top:211.92px;font-size:12.5px;line-height:12.5px;color:#ffffff;letter-spacing:0.585px;-webkit-text-stroke:0px currentColor">4,167.00</div>
<div class="t" style="left:786.7px;top:226.82px;font-size:12.5px;line-height:12.5px;color:#ffffff;letter-spacing:0.328px;-webkit-text-stroke:0px currentColor">13:53:45</div>
<div class="t" style="left:786.6px;top:566.72px;font-size:12.5px;line-height:12.5px;color:#ffffff;letter-spacing:0.384px;-webkit-text-stroke:0px currentColor">101.4K</div>
</body></html>
